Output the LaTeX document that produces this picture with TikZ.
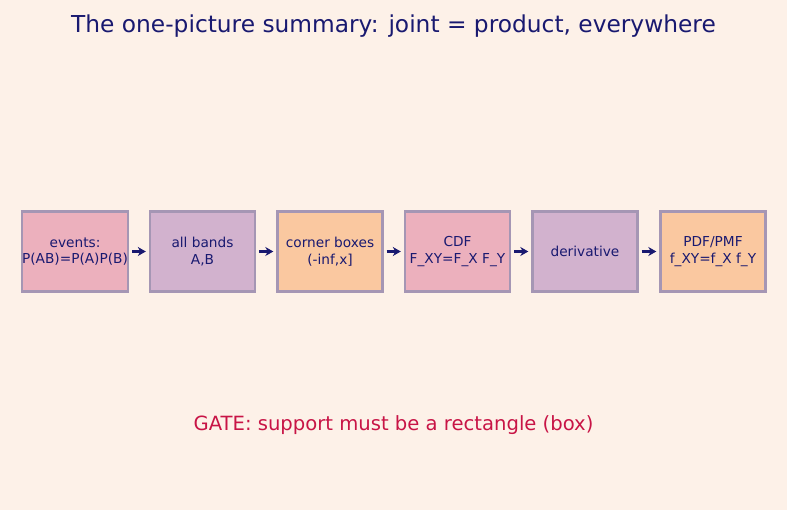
\documentclass[tikz,border=0pt]{standalone}
\usepackage{fontspec}
\setmainfont{DejaVu Sans}
\usetikzlibrary{arrows.meta}
\definecolor{bg}{RGB}{253,241,232}
\definecolor{navy}{RGB}{25,25,112}
\definecolor{cpink}{RGB}{236,176,189}
\definecolor{clav}{RGB}{210,178,206}
\definecolor{cpeach}{RGB}{250,200,160}
\definecolor{cborder}{RGB}{165,150,180}
\definecolor{gate}{RGB}{200,20,70}
\tikzset{
  stepbox/.style={draw=cborder, line width=2.4pt, minimum width=105pt, minimum height=80pt, inner sep=0pt, align=center, text=navy, font=\fontsize{13.7}{16.8}\selectfont},
  flow/.style={-{Stealth[length=8pt,width=9pt]}, draw=navy, line width=2.5pt, shorten <=3pt, shorten >=3pt}
}
\begin{document}
\begin{tikzpicture}[x=1pt,y=-1pt]
\fill[bg] (0,0) rectangle (787,510);
\useasboundingbox (0,0) rectangle (787,510);
\node[text=navy, font=\fontsize{23.3}{28}\selectfont] (title) at (393.5,26) {The one-picture summary: joint = product, everywhere};
\node[stepbox, fill=cpink] (b1) at (75,251.5) {events:\\P(AB)=P(A)P(B)};
\node[stepbox, fill=clav] (b2) at (202.5,251.5) {all bands\\A,B};
\node[stepbox, fill=cpeach] (b3) at (330,251.5) {corner boxes\\(-inf,x]};
\node[stepbox, fill=cpink] (b4) at (457.5,251.5) {CDF\\F\_XY=F\_X F\_Y};
\node[stepbox, fill=clav] (b5) at (585,251.5) {derivative};
\node[stepbox, fill=cpeach] (b6) at (713,251.5) {PDF/PMF\\f\_XY=f\_X f\_Y};
\draw[flow] (b1) -- (b2);
\draw[flow] (b2) -- (b3);
\draw[flow] (b3) -- (b4);
\draw[flow] (b4) -- (b5);
\draw[flow] (b5) -- (b6);
\node[text=gate, font=\fontsize{19.6}{23}\selectfont] (gate) at (393.5,425) {GATE: support must be a rectangle (box)};
\end{tikzpicture}
\end{document}
